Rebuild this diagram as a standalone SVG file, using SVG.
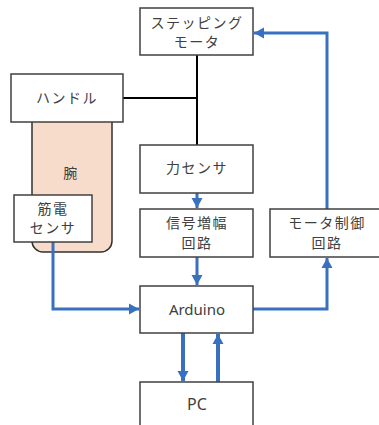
<svg xmlns="http://www.w3.org/2000/svg" width="379" height="425" viewBox="0 0 379 425">
<style>
.box{fill:#fff;stroke:#404040;stroke-width:1.5}
.t{font-family:"Noto Sans CJK JP","Noto Sans",sans-serif;font-size:14px;fill:#404040;text-anchor:middle;letter-spacing:1.5px}
.lt{font-family:"Noto Sans",sans-serif;letter-spacing:0px}
.bl{fill:none;stroke:#000;stroke-width:2}
.bu{fill:none;stroke:#3A70C0;stroke-width:3}
.bu4{fill:none;stroke:#3A70C0;stroke-width:4}
</style>
<defs>
<marker id="ah" markerUnits="userSpaceOnUse" markerWidth="12" markerHeight="12" refX="10" refY="6" orient="auto">
<path d="M0,0.5 L10,6 L0,11.5 Z" fill="#3A70C0"/>
</marker>
</defs>
<rect width="379" height="425" fill="#fff"/>
<g id="arm">
<rect x="32" y="105" width="80" height="147" rx="11" fill="#F8DCCB" stroke="#303030" stroke-width="1.5"/>
<text class="t" x="71" y="178">腕</text>
</g>
<g id="connectors">
<path class="bl" d="M197,55 V145 M123,98 H197"/>
<path class="bu" d="M197,193 V208" marker-end="url(#ah)"/>
<path class="bu" d="M197,257 V285" marker-end="url(#ah)"/>
<path class="bu" d="M53,242 V309 H139" marker-end="url(#ah)"/>
<path class="bu" d="M253,309 H327 V258" marker-end="url(#ah)"/>
<path class="bu" d="M327,209 V33 H254" marker-end="url(#ah)"/>
<path class="bu4" d="M183,333 V381" marker-end="url(#ah)"/>
<path class="bu4" d="M218,382 V334" marker-end="url(#ah)"/>
</g>
<g id="stepping-motor">
<rect class="box" x="140" y="8" width="113" height="47"/>
<text class="t" x="197" y="28">ステッピング</text>
<text class="t" x="197" y="47">モータ</text>
</g>
<g id="handle">
<rect class="box" x="11" y="74" width="112" height="48"/>
<text class="t" x="67" y="103">ハンドル</text>
</g>
<g id="emg">
<rect class="box" x="14" y="195" width="78" height="47"/>
<text class="t" x="53" y="214">筋電</text>
<text class="t" x="53" y="233">センサ</text>
</g>
<g id="force-sensor">
<rect class="box" x="140" y="145" width="113" height="48"/>
<text class="t" x="197" y="173">力センサ</text>
</g>
<g id="amp">
<rect class="box" x="140" y="209" width="113" height="48"/>
<text class="t" x="197" y="228">信号増幅</text>
<text class="t" x="197" y="248">回路</text>
</g>
<g id="motor-control">
<rect class="box" x="270" y="209" width="112" height="48"/>
<text class="t" x="327" y="228">モータ制御</text>
<text class="t" x="327" y="248">回路</text>
</g>
<g id="arduino">
<rect class="box" x="140" y="286" width="113" height="47"/>
<text class="t lt" x="197" y="314.5" style="font-size:15px">Arduino</text>
</g>
<g id="pc">
<rect class="box" x="140" y="382" width="113" height="50"/>
<text class="t lt" x="197" y="410" style="font-size:16px">PC</text>
</g>
</svg>
